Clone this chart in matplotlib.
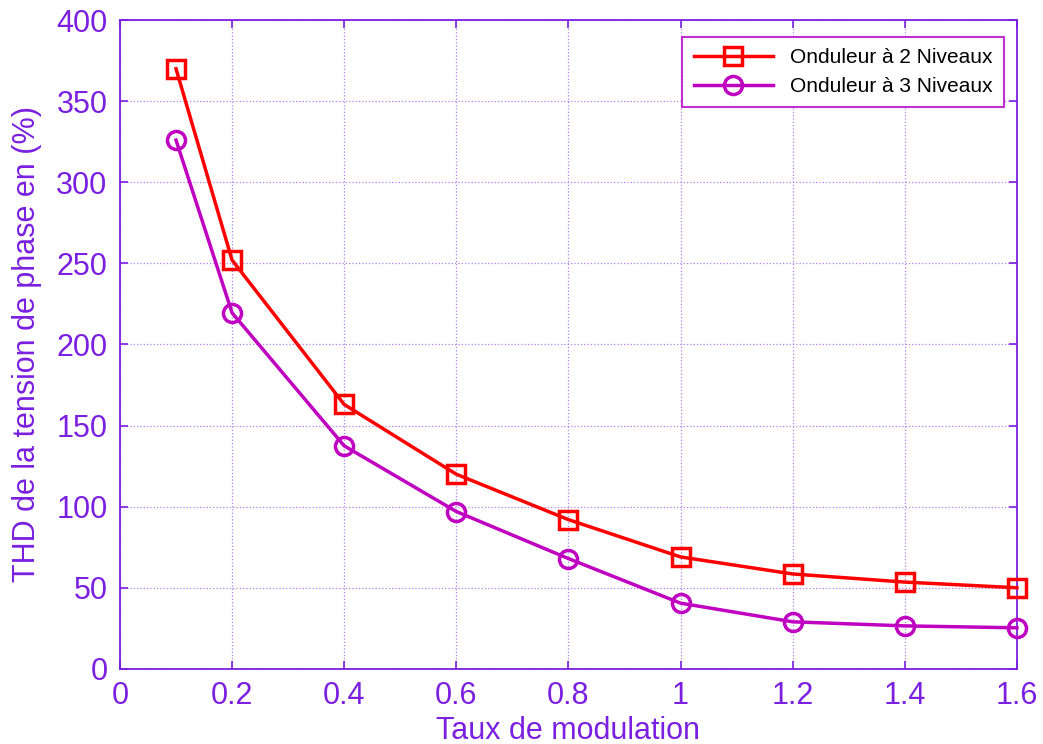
import matplotlib.pyplot as plt

# data
taux = [0.1, 0.2, 0.4, 0.6, 0.8, 1.0, 1.2, 1.4, 1.6]
thd_2niv = [370, 252, 163, 120, 92, 69, 58.5, 53.5, 50]
thd_3niv = [326, 219.5, 137.5, 97, 68, 40.5, 29, 26.5, 25.3]

xticks = [0, 0.2, 0.4, 0.6, 0.8, 1, 1.2, 1.4, 1.6]
xticklabels = ['0', '0.2', '0.4', '0.6', '0.8', '1', '1.2', '1.4', '1.6']
yticks = [0, 50, 100, 150, 200, 250, 300, 350, 400]

AXIS_COLOR = '#7B1FE0'
RED = '#FF0000'
MAGENTA = '#C000C0'

plt.rcParams['font.family'] = ['Liberation Sans', 'DejaVu Sans']

fig = plt.figure(figsize=(10.43, 7.44), dpi=100)
ax = fig.add_axes([0.115, 0.101, 0.86, 0.872])

ax.plot(taux, thd_2niv, color=RED, lw=2.5, marker='s', ms=13, mfc='none',
        mew=2.5, label='Onduleur à 2 Niveaux', clip_on=False, zorder=3)
ax.plot(taux, thd_3niv, color=MAGENTA, lw=2.5, marker='o', ms=13, mfc='none',
        mew=2.5, label='Onduleur à 3 Niveaux', clip_on=False, zorder=3)

ax.set_xlim(0, 1.6)
ax.set_ylim(0, 400)
ax.set_xticks(xticks)
ax.set_xticklabels(xticklabels)
ax.set_yticks(yticks)

ax.grid(True, color='#B07FF0', linestyle=':', linewidth=0.9)
ax.tick_params(direction='in', length=6, width=1.2, colors=AXIS_COLOR,
               labelsize=22, top=True, right=True, pad=9)
for s in ax.spines.values():
    s.set_color(AXIS_COLOR)
    s.set_linewidth(1.3)

ax.set_xlabel('Taux de modulation', fontsize=22, color=AXIS_COLOR, labelpad=3)
ax.set_ylabel('THD de la tension de phase en (%)', fontsize=22, color=AXIS_COLOR, labelpad=10)

leg = ax.legend(loc='upper right', fontsize=15, fancybox=False, framealpha=1,
                edgecolor='#C030D0', borderpad=0.55, handlelength=3.8,
                labelspacing=0.45, bbox_to_anchor=(0.997, 0.99))
leg.get_frame().set_linewidth(1.5)

fig.savefig('out.png', dpi=100)
